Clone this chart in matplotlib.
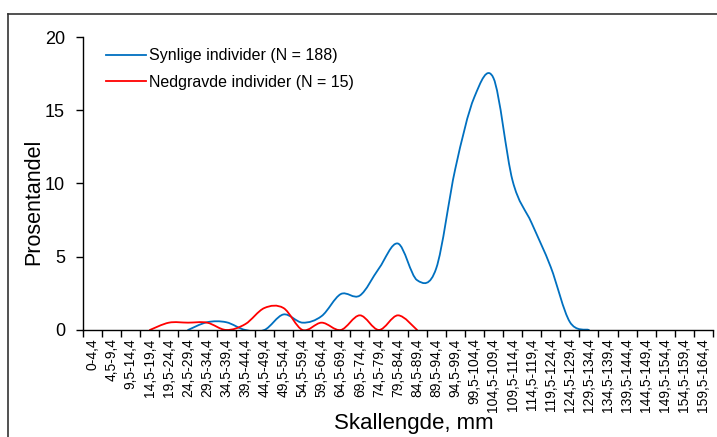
import matplotlib
matplotlib.use("Agg")
import matplotlib.pyplot as plt
from matplotlib.path import Path
from matplotlib.patches import PathPatch
from matplotlib.lines import Line2D
import numpy as np

plt.rcParams['font.family'] = ['Liberation Sans', 'DejaVu Sans']

categories = ["0-4,4", "4,5-9,4", "9,5-14,4", "14,5-19,4", "19,5-24,4", "24,5-29,4",
              "29,5-34,4", "34,5-39,4", "39,5-44,4", "44,5-49,4", "49,5-54,4", "54,5-59,4",
              "59,5-64,4", "64,5-69,4", "69,5-74,4", "74,5-79,4", "79,5-84,4", "84,5-89,4",
              "89,5-94,4", "94,5-99,4", "99,5-104,4", "104,5-109,4", "109,5-114,4",
              "114,5-119,4", "119,5-124,4", "124,5-129,4", "129,5-134,4", "134,5-139,4",
              "139,5-144,4", "144,5-149,4", "149,5-154,4", "154,5-159,4", "159,5-164,4"]

synlige = [None, None, None, None, None, 0, 0.53, 0.53, 0, 0, 1.06, 0.5, 0.95, 2.45, 2.35,
           4.2, 5.9, 3.4, 4.2, 11.0, 15.9, 17.2, 10.2, 7.3, 4.3, 0.55, 0,
           None, None, None, None, None, None]
nedgravde = [None, None, None, 0, 0.5, 0.5, 0.5, 0, 0.4, 1.5, 1.5, 0, 0.5, 0, 1.0, 0, 1.0, 0,
             None, None, None, None, None, None, None, None, None, None, None, None, None, None, None]

label_synlige = "Synlige individer (N = 188)"
label_nedgravde = "Nedgravde individer (N = 15)"
blue = "#0070C0"
red = "#FF0000"


def smooth_path(values):
    pts = [(i, v) for i, v in enumerate(values) if v is not None]
    xs = np.array([p[0] for p in pts], float)
    ys = np.array([p[1] for p in pts], float)
    n = len(xs)
    verts = [(xs[0], ys[0])]
    codes = [Path.MOVETO]
    for i in range(n - 1):
        p0 = np.array([xs[max(i - 1, 0)], ys[max(i - 1, 0)]])
        p1 = np.array([xs[i], ys[i]])
        p2 = np.array([xs[i + 1], ys[i + 1]])
        p3 = np.array([xs[min(i + 2, n - 1)], ys[min(i + 2, n - 1)]])
        c1 = p1 + (p2 - p0) / 6.0
        c2 = p2 - (p3 - p1) / 6.0
        verts += [tuple(c1), tuple(c2), tuple(p2)]
        codes += [Path.CURVE4] * 3
    return Path(verts, codes)


fig = plt.figure(figsize=(7.17, 4.37), dpi=100)
ax = fig.add_axes([0.1158, 0.2449, 0.8786, 0.6704])

for vals, col in [(synlige, blue), (nedgravde, red)]:
    ax.add_patch(PathPatch(smooth_path(vals), facecolor='none', edgecolor=col, lw=1.3,
                           capstyle='round', joinstyle='round'))

ax.set_xlim(-0.5, len(categories) - 0.5)
ax.set_ylim(0, 20)
ax.set_yticks([0, 5, 10, 15, 20])
ax.tick_params(axis='y', labelsize=13, length=5, width=1, direction='out', pad=8)

ax.set_xticks(np.arange(len(categories)))
ax.set_xticklabels(categories, rotation=90, fontsize=10)
ax.set_xticks(np.arange(len(categories) + 1) - 0.5, minor=True)
ax.tick_params(axis='x', which='major', length=0, pad=6)
ax.tick_params(axis='x', which='minor', length=5, width=1, direction='out')

for s in ['top', 'right']:
    ax.spines[s].set_visible(False)
for s in ['left', 'bottom']:
    ax.spines[s].set_linewidth(1)

ax.set_ylabel("Prosentandel", fontsize=15.5)
ax.yaxis.set_label_coords(-0.062, 0.437)
ax.set_xlabel("Skallengde, mm", fontsize=16)
ax.xaxis.set_label_coords(0.525, -0.282)

handles = [Line2D([], [], color=blue, lw=1.3), Line2D([], [], color=red, lw=1.3)]
ax.legend(handles, [label_synlige, label_nedgravde], loc='upper left', frameon=False,
          fontsize=11.5, handlelength=2.5, handletextpad=0.2, labelspacing=0.73,
          borderaxespad=0, borderpad=0, bbox_to_anchor=(0.037, 0.962))

# chart area border (top and left visible)
fig.add_artist(Line2D([8 / 717, 1], [1 - 14 / 437, 1 - 14 / 437], transform=fig.transFigure,
                      color='#333333', lw=1.2))
fig.add_artist(Line2D([8 / 717, 8 / 717], [0, 1 - 14 / 437], transform=fig.transFigure,
                      color='#333333', lw=1.2))

fig.savefig("out.png", dpi=100)
